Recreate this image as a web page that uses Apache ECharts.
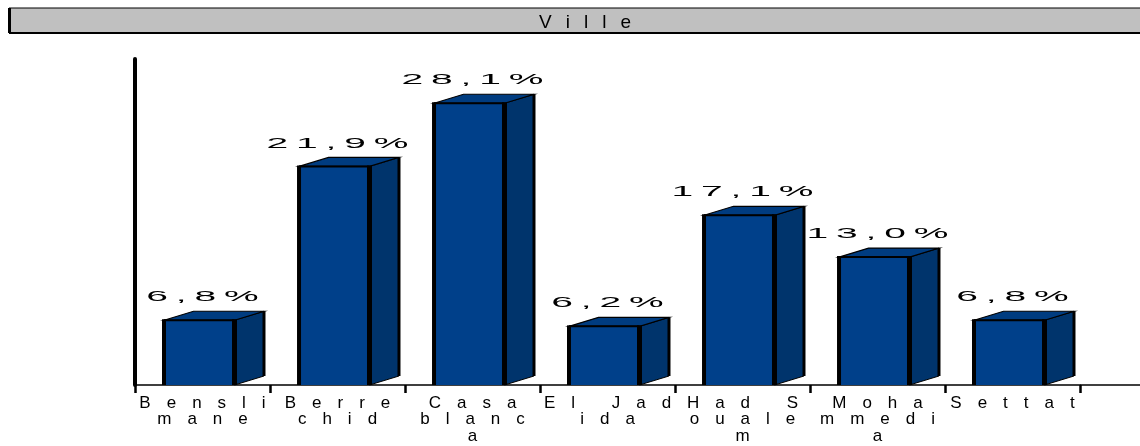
<!DOCTYPE html>
<html>
<head>
<meta charset="utf-8">
<title>Ville</title>
<script src="https://cdn.jsdelivr.net/npm/echarts@6/dist/echarts.min.js"></script>
<style>
    html, body { margin: 0; padding: 0; background: #fff; }
    #chart { width: 1140px; height: 446px; }
</style>
</head>
<body>
<div id="chart"></div>
<script>
    // données
    const titre = 'Ville';
    const villes = ['Benslimane', 'Berrechid', 'Casablanca', 'El Jadida', 'Had Soualem', 'Mohammedia', 'Settat'];
    const parts = [6.8, 21.9, 28.1, 6.2, 17.1, 13.0, 6.8];
    // où les libellés passent à la ligne (index de caractère)
    const coupures = [[6], [5], [4, 9], [6], [5, 10], [4, 9], []];
    const yMax = 32;

    const FONT = '"Liberation Sans", Arial, sans-serif';

    // chaque caractère devient un bloc "rich" -> espacement des lettres
    function espacer(str, style) {
        return str.split('\n').map(function (ligne) {
            return ligne.split('').map(function (c) { return '{' + style + '|' + c + '}'; }).join('');
        }).join('\n');
    }

    function couper(nom, i) {
        let out = '', prev = 0;
        coupures[i].forEach(function (p) { out += nom.slice(prev, p) + '\n'; prev = p; });
        return out + nom.slice(prev);
    }

    function pourcent(v) {
        return v.toFixed(1).replace('.', ',') + '%';
    }

    // barre 3D : face avant, côté, dessus + étiquette
    function renderItem(params, api) {
        const i = api.value(0), v = api.value(1);
        const pt = api.coord([i, v]);
        const p0 = api.coord([i, 0]);
        const band = api.size([1, 0])[0];
        const cx = pt[0];
        const dx = band * 0.2185, dy = 9;
        const xl = cx - band * 0.285;
        const xr = cx + band * 0.237;
        const yt = pt[1] + dy / 2;
        const yb = p0[1];
        const noir = '#000';
        return {
            type: 'group',
            children: [
                {   // côté
                    type: 'polygon',
                    shape: { points: [[xr, yt], [xr + dx, yt - dy], [xr + dx, yb - dy], [xr, yb]] },
                    style: { fill: '#00346c', stroke: noir, lineWidth: 1 }
                },
                {   // dessus
                    type: 'polygon',
                    shape: { points: [[xl, yt], [xl + dx, yt - dy], [xr + dx, yt - dy], [xr, yt]] },
                    style: { fill: '#003c80', stroke: noir, lineWidth: 1.2 }
                },
                {   // face avant
                    type: 'rect',
                    shape: { x: xl, y: yt, width: xr - xl, height: yb - yt },
                    style: { fill: '#00408a' }
                },
                { type: 'line', shape: { x1: xl, y1: yt, x2: xr, y2: yt }, style: { stroke: noir, lineWidth: 2 } },
                { type: 'line', shape: { x1: xl, y1: yt - 1, x2: xl, y2: yb }, style: { stroke: noir, lineWidth: 4 } },
                { type: 'line', shape: { x1: xr, y1: yt - 1, x2: xr, y2: yb }, style: { stroke: noir, lineWidth: 5 } },
                { type: 'line', shape: { x1: xr + dx, y1: yt - dy, x2: xr + dx, y2: yb - dy }, style: { stroke: noir, lineWidth: 3 } },
                {   // étiquette (texte étiré comme dans l'original)
                    type: 'text',
                    x: cx,
                    y: yt - dy - 14,
                    scaleX: 2.6,
                    style: {
                        text: espacer(pourcent(v), 'v'),
                        fontSize: 15,
                        fontFamily: FONT,
                        fill: '#000',
                        align: 'center',
                        verticalAlign: 'middle',
                        rich: {
                            v: { fontSize: 15, fontFamily: FONT, fill: '#000', padding: [0, 1.5] }
                        }
                    }
                }
            ]
        };
    }

    let myChart = echarts.init(document.getElementById('chart'), null, { renderer: 'canvas' });
    myChart.setOption({
        backgroundColor: '#fff',
        animation: false,
        title: {
            text: espacer(titre, 't'),
            left: 580,
            top: 8,
            textAlign: 'center',
            textStyle: {
                fontSize: 19,
                fontWeight: 'normal',
                fontFamily: FONT,
                color: '#000',
                rich: {
                    t: { fontSize: 19, fontWeight: 'normal', fontFamily: FONT, color: '#000', padding: [0, 7] }
                }
            }
        },
        // cadre gris du titre + prolongement de l'axe
        graphic: [
            {
                type: 'rect', z: -1,
                shape: { x: 9, y: 8, width: 1140, height: 24.5 },
                style: { fill: '#c0c0c0', stroke: '#000', lineWidth: 1 }
            },
            { type: 'line', shape: { x1: 9.5, y1: 8, x2: 9.5, y2: 33 }, style: { stroke: '#000', lineWidth: 3 } },
            { type: 'line', shape: { x1: 9, y1: 33, x2: 1140, y2: 33 }, style: { stroke: '#000', lineWidth: 2 } },
            { type: 'line', shape: { x1: 1080, y1: 385, x2: 1140, y2: 385 }, style: { stroke: '#000', lineWidth: 1.5 } }
        ],
        grid: {
            left: 135,
            right: 60,
            top: 59,
            bottom: 61,
            containLabel: false
        },
        xAxis: {
            type: 'category',
            data: villes,
            boundaryGap: true,
            axisLine: { lineStyle: { color: '#000', width: 1.5 } },
            axisTick: { show: true, length: 8, lineStyle: { color: '#000', width: 2.5 } },
            axisLabel: {
                interval: 0,
                margin: 10,
                fontSize: 17,
                fontFamily: FONT,
                color: '#000',
                lineHeight: 16.5,
                formatter: function (val, i) { return espacer(couper(val, i), 'c'); },
                rich: {
                    c: { fontSize: 17, fontFamily: FONT, color: '#000', padding: [0, 8], lineHeight: 16.5 }
                }
            }
        },
        yAxis: {
            type: 'value',
            min: 0,
            max: yMax,
            axisLine: { show: true, lineStyle: { color: '#000', width: 4 } },
            axisTick: { show: false },
            axisLabel: { show: false },
            splitLine: { show: false }
        },
        series: [{
            type: 'custom',
            renderItem: renderItem,
            encode: { x: 0, y: 1 },
            data: parts.map(function (v, i) { return [i, v]; })
        }]
    });
</script>
</body>
</html>
